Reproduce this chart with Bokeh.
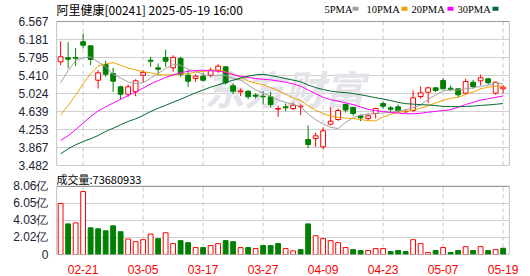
from bokeh.plotting import figure
from bokeh.layouts import column
from bokeh.models import FixedTicker, ColumnDataSource, NumeralTickFormatter, Range1d
from bokeh.embed import file_html
from bokeh.resources import INLINE
from bokeh.core.properties import value

# ---------------- data ----------------
stock_title = "阿里健康[00241] 2025-05-19 16:00"
dates = ["02-18", "02-19", "02-20", "02-21", "02-24", "02-25", "02-26", "02-27", "02-28",
         "03-03", "03-04", "03-05", "03-06", "03-07", "03-10", "03-11", "03-12", "03-13",
         "03-14", "03-17", "03-18", "03-19", "03-20", "03-21", "03-24", "03-25", "03-26",
         "03-27", "03-28", "03-31", "04-01", "04-02", "04-03", "04-07", "04-08", "04-09",
         "04-10", "04-11", "04-14", "04-15", "04-16", "04-17", "04-22", "04-23", "04-24",
         "04-25", "04-28", "04-29", "04-30", "05-02", "05-06", "05-07", "05-08", "05-09",
         "05-12", "05-13", "05-14", "05-15", "05-16", "05-19"]
tick_dates = ["02-21", "03-05", "03-17", "03-27", "04-09", "04-23", "05-07", "05-19"]

open_ = [5.703, 5.789, 5.795, 6.132, 6.046, 5.309, 5.646, 5.453, 5.168, 5.009,
         5.061, 5.416, 5.738, 5.575, 5.796, 5.575, 5.774, 5.416, 5.346, 5.395,
         5.416, 5.511, 5.596, 5.189, 5.061, 5.074, 4.990, 4.967, 4.954, 4.688,
         4.739, 4.703, 4.739, 4.039, 4.060, 3.883, 4.367, 4.467, 4.789, 4.724,
         4.547, 4.489, 4.596, 4.810, 4.718, 4.739, 4.632, 4.660, 4.960, 5.052,
         5.146, 5.303, 5.138, 5.125, 5.031, 5.266, 5.296, 5.339, 5.031, 5.125]
high = [6.145, 6.123, 6.003, 6.310, 6.050, 5.524, 5.725, 5.575, 5.190, 5.217,
        5.331, 5.524, 5.811, 5.667, 5.967, 5.845, 5.811, 5.524, 5.438, 5.467,
        5.575, 5.652, 5.609, 5.239, 5.131, 5.095, 5.024, 5.074, 5.061, 4.761,
        4.810, 4.832, 4.789, 4.339, 4.189, 4.296, 4.724, 4.703, 4.810, 4.739,
        4.575, 4.596, 4.718, 4.846, 4.761, 4.789, 4.682, 5.089, 5.174, 5.174,
        5.160, 5.352, 5.196, 5.138, 5.339, 5.318, 5.431, 5.361, 5.281, 5.196]
low = [5.631, 5.566, 5.609, 5.988, 5.631, 5.131, 5.382, 5.061, 4.896, 4.954,
       4.967, 5.260, 5.596, 5.416, 5.596, 5.489, 5.382, 5.168, 5.275, 5.275,
       5.367, 5.467, 5.217, 5.009, 4.967, 4.902, 4.917, 4.789, 4.724, 4.525,
       4.645, 4.667, 4.560, 3.853, 3.883, 3.831, 4.339, 4.440, 4.617, 4.547,
       4.431, 4.453, 4.489, 4.703, 4.632, 4.617, 4.610, 4.624, 4.911, 4.817,
       5.052, 5.110, 5.074, 4.945, 5.003, 5.125, 5.196, 5.217, 4.997, 5.031]
close = [5.811, 5.759, 5.780, 6.059, 5.753, 5.468, 5.438, 5.288, 5.009, 5.168,
         5.296, 5.474, 5.716, 5.545, 5.716, 5.796, 5.431, 5.288, 5.395, 5.309,
         5.524, 5.609, 5.254, 5.074, 5.080, 4.954, 4.967, 4.954, 4.789, 4.703,
         4.718, 4.774, 4.752, 3.932, 4.118, 4.225, 4.431, 4.660, 4.670, 4.596,
         4.504, 4.547, 4.703, 4.752, 4.688, 4.654, 4.640, 4.932, 5.039, 5.146,
         5.089, 5.125, 5.110, 4.997, 5.281, 5.174, 5.361, 5.254, 5.266, 5.160]

ma5 = [5.254, 5.517, 5.731, 5.789, 5.810, 5.700, 5.600, 5.430, 5.360, 5.270,
       5.236, 5.255, 5.350, 5.450, 5.560, 5.645, 5.630, 5.540, 5.500, 5.430,
       5.395, 5.420, 5.410, 5.350, 5.315, 5.210, 5.100, 5.030, 4.965, 4.885,
       4.835, 4.789, 4.745, 4.580, 4.465, 4.370, 4.300, 4.275, 4.405, 4.505,
       4.560, 4.585, 4.590, 4.610, 4.620, 4.652, 4.675, 4.720, 4.780, 4.900,
       4.990, 5.080, 5.102, 5.098, 5.125, 5.145, 5.178, 5.200, 5.255, 5.233]
ma10 = [4.568, 4.767, 4.982, 5.232, 5.450, 5.609, 5.661, 5.685, 5.630, 5.570,
        5.530, 5.490, 5.467, 5.430, 5.420, 5.435, 5.444, 5.444, 5.483, 5.497,
        5.520, 5.533, 5.487, 5.440, 5.376, 5.292, 5.245, 5.212, 5.151, 5.091,
        5.010, 4.927, 4.877, 4.763, 4.667, 4.594, 4.541, 4.512, 4.499, 4.488,
        4.467, 4.444, 4.439, 4.521, 4.578, 4.621, 4.642, 4.668, 4.707, 4.762,
        4.821, 4.879, 4.919, 4.944, 5.003, 5.055, 5.127, 5.159, 5.182, 5.183]
ma20 = [4.020, 4.120, 4.250, 4.390, 4.530, 4.650, 4.740, 4.820, 4.900, 4.980,
        5.060, 5.140, 5.230, 5.300, 5.370, 5.420, 5.470, 5.500, 5.515, 5.525,
        5.511, 5.503, 5.477, 5.428, 5.394, 5.368, 5.344, 5.328, 5.317, 5.293,
        5.265, 5.230, 5.181, 5.101, 5.021, 4.942, 4.892, 4.861, 4.824, 4.788,
        4.737, 4.684, 4.657, 4.641, 4.621, 4.606, 4.590, 4.589, 4.601, 4.624,
        4.642, 4.660, 4.678, 4.731, 4.789, 4.836, 4.883, 4.912, 4.943, 4.971]
ma30 = [3.732, 3.840, 3.925, 3.996, 4.054, 4.125, 4.210, 4.281, 4.354, 4.425,
        4.482, 4.553, 4.639, 4.710, 4.770, 4.840, 4.900, 4.970, 5.039, 5.100,
        5.160, 5.210, 5.260, 5.310, 5.355, 5.395, 5.425, 5.435, 5.410, 5.380,
        5.344, 5.311, 5.277, 5.206, 5.151, 5.110, 5.076, 5.055, 5.044, 5.025,
        4.998, 4.967, 4.933, 4.907, 4.873, 4.835, 4.808, 4.796, 4.785, 4.779,
        4.765, 4.749, 4.744, 4.741, 4.748, 4.755, 4.769, 4.779, 4.794, 4.809]

volume = [604000000, 362000000, 374000000, 744000000, 315000000, 304000000, 280000000,
          339000000, 269000000, 183000000, 152000000, 175000000, 242000000, 187000000,
          257000000, 129000000, 164000000, 140000000, 82000000, 82000000, 105000000,
          129000000, 164000000, 152000000, 82000000, 82000000, 70000000, 105000000,
          105000000, 129000000, 70000000, 43000000, 58000000, 362000000, 222000000,
          187000000, 164000000, 140000000, 82000000, 58000000, 47000000, 47000000,
          70000000, 70000000, 35000000, 47000000, 35000000, 175000000, 129000000,
          23000000, 47000000, 82000000, 23000000, 47000000, 93000000, 47000000,
          93000000, 47000000, 58000000, 73680933]

price_ticks = [3.482, 3.867, 4.253, 4.639, 5.024, 5.410, 5.795, 6.181, 6.567]
vol_ticks = [0, 201500000, 403000000, 604500000, 806000000]
vol_tick_labels = ["0", "2.02亿", "4.03亿", "6.05亿", "8.06亿"]
ma_names = ["5PMA", "10PMA", "20PMA", "30PMA"]

# ---------------- styling / layout ----------------
RED = "#ff0000"
GREEN = "#008000"
MA_COLORS = ["#a0a0a0", "#f0a000", "#ff00ff", "#006a30"]
AXIS_TXT = "#222233"
BORDER = "#999999"
GRID = "#d0d0d0"
VGRID = "#c8c8c8"
FONT = "Liberation Sans"
CJK = "Noto Sans CJK SC"

n = len(dates)
xs = list(range(n))
tick_idx = [dates.index(d) for d in tick_dates]
x0, x1 = -0.55, n - 0.15
PX = 453.0 / (x1 - x0)            # pixels per bar slot

def px_to_x(px):                   # horizontal pixel offset from frame left -> data x
    return x0 + px / PX

up = [c >= o for o, c in zip(open_, close)]
cd = ColumnDataSource(dict(
    x=xs, high=high, low=low,
    top=[max(o, c) for o, c in zip(open_, close)],
    bottom=[min(o, c) for o, c in zip(open_, close)],
    line=[RED if u else GREEN for u in up],
    fill=["white" if u else GREEN for u in up],
))

vol_up = [True] + [close[i] >= close[i - 1] for i in range(1, n)]
vd = ColumnDataSource(dict(
    x=xs, vol=volume,
    line=[RED if u else GREEN for u in vol_up],
    fill=["white" if u else GREEN for u in vol_up],
))

xr = Range1d(x0, x1)

def style_yaxis(fig, ticks):
    fig.yaxis.ticker = FixedTicker(ticks=ticks)
    fig.yaxis.major_label_text_font = FONT
    fig.yaxis.major_label_text_font_size = "12px"
    fig.yaxis.major_label_text_color = AXIS_TXT
    fig.yaxis.major_tick_line_color = None
    fig.yaxis.minor_tick_line_color = None
    fig.yaxis.axis_line_color = None
    fig.yaxis.major_label_standoff = 2
    fig.ygrid.ticker = FixedTicker(ticks=ticks)
    fig.ygrid.grid_line_color = GRID

def frame_box(fig, ylo, yhi):
    fig.segment(x0=[x0, x0, x0, x1], y0=[ylo, yhi, ylo, ylo],
                x1=[x1, x1, x0, x1], y1=[ylo, yhi, yhi, yhi],
                line_color=BORDER, line_width=1.2)

def date_lines(fig, ylo, yhi):
    fig.segment(x0=tick_idx, x1=tick_idx, y0=[ylo] * len(tick_idx), y1=[yhi] * len(tick_idx),
                line_color=VGRID, line_width=1, line_dash="4 3")

# ---------------- price panel ----------------
p_lo, p_hi = price_ticks[0], price_ticks[-1]
p_ppx = (p_hi - p_lo) / 144.0             # price per pixel
p_top = p_hi + 21 * p_ppx                 # header strip above the frame
p = figure(width=530, height=172, x_range=xr, y_range=Range1d(p_lo, p_top),
           output_backend="svg", toolbar_location=None, x_axis_location=None,
           min_border_left=56, min_border_right=21, min_border_top=0, min_border_bottom=7,
           background_fill_color="white", border_fill_color="white")
p.outline_line_color = None
style_yaxis(p, price_ticks)
p.yaxis.formatter = NumeralTickFormatter(format="0.000")
p.xgrid.visible = False

date_lines(p, p_lo, p_hi)

# watermark
p.text(x=[px_to_x(228)], y=[p_lo + 78 * p_ppx], text=["东方财富"], text_font=value(CJK),
       text_font_size="40px", text_font_style="bold italic", text_color="#e3e3e9",
       text_align="center", text_baseline="middle")

p.segment(x0="x", y0="high", x1="x", y1="low", color="line", line_width=1, source=cd)
p.vbar(x="x", top="top", bottom="bottom", width=0.64, fill_color="fill",
       line_color="line", line_width=1, source=cd)

for ma, col in zip([ma5, ma10, ma20, ma30], MA_COLORS):
    p.line(xs, ma, line_color=col, line_width=1)

frame_box(p, p_lo, p_hi)

# header: title + MA legend
p.text(x=[x0], y=[p_hi + 12 * p_ppx], text=[stock_title], text_font=value(CJK),
       text_font_size="12px", text_color="#000000", text_baseline="middle")
leg_px = [268, 310, 355, 401]
sq_px = [299, 348, 394, 439]
p.text(x=[px_to_x(v) for v in leg_px], y=[p_hi + 12.5 * p_ppx] * 4, text=ma_names,
       text_font=value("Liberation Serif"), text_font_size="10.5px", text_color="#000000",
       text_baseline="middle")
p.rect(x=[px_to_x(v) for v in sq_px], y=[p_hi + 12.8 * p_ppx] * 4, width=6, height=4,
       width_units="screen", height_units="screen", fill_color=MA_COLORS,
       line_color=None)

# ---------------- volume panel ----------------
v_hi = vol_ticks[-1]
v_ppx = v_hi / 69.0
v_top = v_hi + 14 * v_ppx
v = figure(width=530, height=104, x_range=xr, y_range=Range1d(0, v_top),
           output_backend="svg", toolbar_location=None,
           min_border_left=56, min_border_right=21, min_border_top=0, min_border_bottom=21,
           background_fill_color="white", border_fill_color="white")
v.outline_line_color = None
style_yaxis(v, vol_ticks)
v.yaxis.major_label_overrides = {t: l for t, l in zip(vol_ticks, vol_tick_labels)}

v.xaxis.ticker = FixedTicker(ticks=tick_idx)
v.xaxis.major_label_overrides = {i: d for i, d in zip(tick_idx, tick_dates)}
v.xaxis.major_label_text_font = FONT
v.xaxis.major_label_text_font_size = "12px"
v.xaxis.major_label_text_color = RED
v.xaxis.major_tick_line_color = None
v.xaxis.minor_tick_line_color = None
v.xaxis.axis_line_color = None
v.xaxis.major_label_standoff = 4
v.xgrid.visible = False

date_lines(v, 0, v_hi)
v.vbar(x="x", top="vol", bottom=0, width=0.64, fill_color="fill", line_color="line",
       line_width=1, source=vd)
frame_box(v, 0, v_hi)

v.text(x=[x0], y=[v_hi + 7 * v_ppx], text=["成交量:" + str(volume[-1])],
       text_font=value(CJK), text_font_size="11px", text_color="#000000",
       text_baseline="middle")

layout = column(p, v, spacing=0)
open("out.html", "w").write(file_html(layout, INLINE))
